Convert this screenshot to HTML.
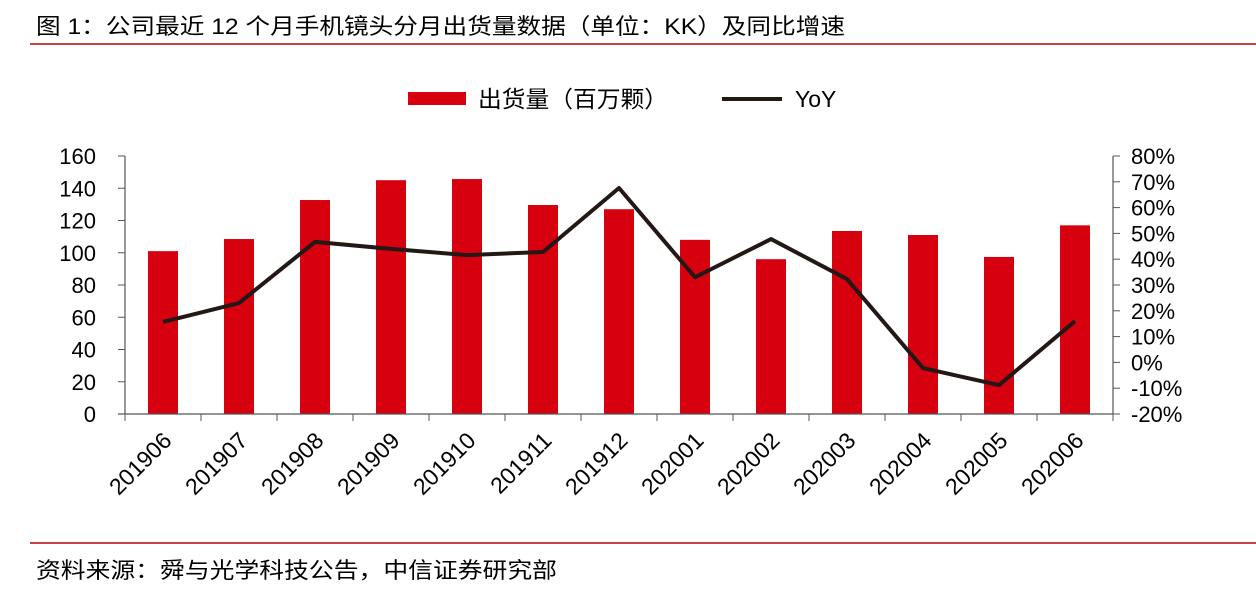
<!DOCTYPE html>
<html><head><meta charset="utf-8"><style>
body{margin:0;background:#fff;width:1256px;height:597px;overflow:hidden;font-family:"Liberation Sans","Noto Sans CJK SC",sans-serif;}
</style></head><body>
<svg width="1256" height="597" xmlns="http://www.w3.org/2000/svg" font-family="Liberation Sans, Noto Sans CJK SC, sans-serif">
<text x="36" y="34" font-size="22" textLength="809" lengthAdjust="spacingAndGlyphs" fill="#000">图 1：公司最近 12 个月手机镜头分月出货量数据（单位：KK）及同比增速</text>
<line x1="30" y1="44" x2="1256" y2="44" stroke="#c00000" stroke-width="1.5"/>
<line x1="30" y1="543" x2="1256" y2="543" stroke="#c00000" stroke-width="1.5"/>
<text x="36" y="578" font-size="22" textLength="521" lengthAdjust="spacingAndGlyphs" fill="#000">资料来源：舜与光学科技公告，中信证券研究部</text>
<g>
<rect x="408" y="92" width="58" height="13" fill="#d7000f"/>
<text x="478" y="107" font-size="23" textLength="190" lengthAdjust="spacingAndGlyphs">出货量（百万颗）</text>
<line x1="722" y1="99" x2="782" y2="99" stroke="#231815" stroke-width="4"/>
<text x="795" y="107" font-size="23">YoY</text>
</g>
<g id="chart"></g>
</svg>
<script>
const categories=["201906","201907","201908","201909","201910","201911","201912","202001","202002","202003","202004","202005","202006"];
const shipments=[101,108.5,132.7,145,145.7,129.6,127,108,96,113.5,111,97.4,117];
const yoy=[15.7,23,46.7,44,41.6,42.8,67.6,33,47.8,32.3,-2.2,-8.8,16];
const leftTicks=[0,20,40,60,80,100,120,140,160];
const rightTicks=[-20,-10,0,10,20,30,40,50,60,70,80];
const X0=125,X1=1113,Y0=414,Y1=156;
const NS="http://www.w3.org/2000/svg";
const g=document.getElementById('chart');
const step=(X1-X0)/categories.length;
const xc=i=>X0+step*(i+0.5);
const yL=v=>Y0-(v-0)/(160-0)*(Y0-Y1);
const yR=v=>Y0-(v+20)/100*(Y0-Y1);
function mk(t,a){const e=document.createElementNS(NS,t);for(const k in a)e.setAttribute(k,a[k]);g.appendChild(e);return e;}
shipments.forEach((v,i)=>{
 const r=mk('rect',{x:xc(i)-15,y:yL(v),width:30,height:Y0-yL(v),fill:'#d7000f'});
 
 
});
let l=mk('line',{x1:X0,y1:Y1,x2:X0,y2:Y0,stroke:'#555','stroke-width':1.2});


l=mk('line',{x1:X1,y1:Y1,x2:X1,y2:Y0,stroke:'#555','stroke-width':1.2});


l=mk('line',{x1:X0-7,y1:Y0,x2:X1,y2:Y0,stroke:'#555','stroke-width':1.2});


leftTicks.forEach(v=>{
 mk('line',{x1:X0-7,y1:yL(v),x2:X0,y2:yL(v),stroke:'#555'});
 const t=mk('text',{x:96,y:yL(v)+8,'font-size':22,'text-anchor':'end'});t.textContent=v;
 
 
});
rightTicks.forEach(v=>{
 mk('line',{x1:X1,y1:yR(v),x2:X1+7,y2:yR(v),stroke:'#555'});
 const t=mk('text',{x:X1+18,y:yR(v)+8,'font-size':22});t.textContent=v+'%';
 
 
});
for(let i=0;i<=categories.length;i++) mk('line',{x1:X0+step*i,y1:Y0,x2:X0+step*i,y2:Y0+7,stroke:'#555'});
categories.forEach((c,i)=>{
 const x=xc(i)+10,y=Y0+28;
 const t=mk('text',{x:x,y:y,'font-size':23,'text-anchor':'end',transform:`rotate(-45 ${x} ${y})`});t.textContent=c;
 
 
});
const p=mk('polyline',{points:yoy.map((v,i)=>xc(i)+','+yR(v)).join(' '),fill:'none',stroke:'#231815','stroke-width':4,'stroke-linejoin':'round'});


</script>
</body></html>
